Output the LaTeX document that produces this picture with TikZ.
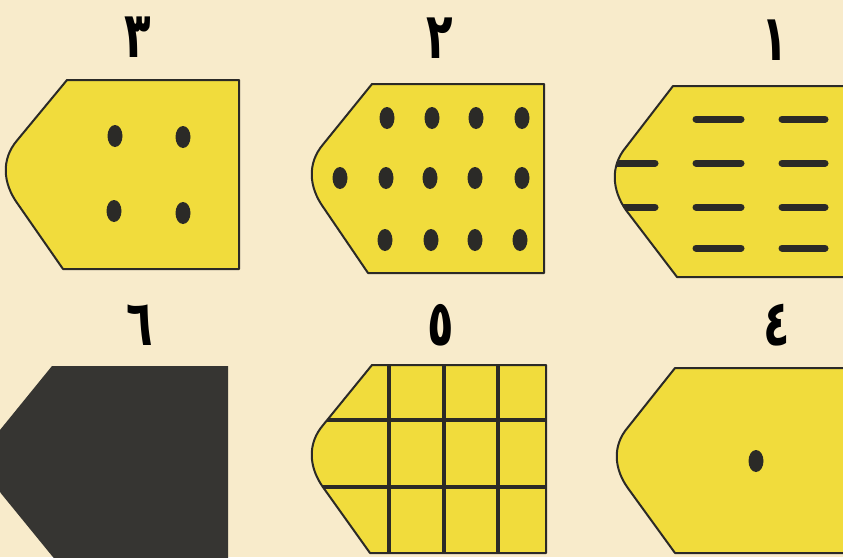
\documentclass[tikz,border=0pt]{standalone}
\usepackage{fontspec}
\newfontfamily\arabicfont[Script=Arabic]{DejaVu Sans}
\TeXXeTstate=1
\definecolor{bgcream}{HTML}{F8EBCB}
\definecolor{patchyellow}{HTML}{F1DC3C}
\definecolor{inkdark}{HTML}{2B2A27}
\definecolor{patchblack}{HTML}{363532}
\tikzset{
  patchfill/.style={fill=patchyellow},
  patchline/.style={draw=inkdark,line width=2pt,line join=round},
  dotmark/.style={fill=inkdark},
  dashbar/.style={draw=inkdark,line width=7pt,line cap=round},
  gridbar/.style={draw=inkdark,line width=4.5pt},
  numlabel/.style={font=\arabicfont\bfseries\fontsize{64}{68}\selectfont,text=black,anchor=base,inner sep=0pt,xscale=0.68}
}
% #1 top, #2 bottom, #3 x top-left, #4 x bottom-left, #5 tip x, #6 right x, #7 options
\newcommand{\patchshape}[7]{%
  \path[#7] (#3,#1) -- (#6,#1) -- (#6,#2) -- (#4,#2)
    -- ({#5+10},{#1+0.65*(#2-#1)})
    .. controls ({#5-4},{#1+0.545*(#2-#1)}) and ({#5-6},{#1+0.42*(#2-#1)}) ..
    ({#5+10},{#1+0.32*(#2-#1)}) -- cycle;}
\begin{document}
\begin{tikzpicture}[x=1pt,y=-1pt]
\useasboundingbox (0,0) rectangle (843,557);
\fill[bgcream] (0,0) rectangle (843,557);
\clip (0,0) rectangle (843,557);

% labels
\node[numlabel] (l3) at (138,57) {٣};
\node[numlabel] (l2) at (440,58) {٢};
\node[numlabel] (l1) at (775,60) {١};
\node[numlabel] (l6) at (140,345) {٦};
\node[numlabel] (l5) at (441,345) {٥};
\node[numlabel] (l4) at (777,345) {٤};

% patch 3
\patchshape{80}{269}{67}{63}{7}{239}{patchfill}
\foreach \px/\py in {115/136,183/137,114/211,183/213}
  \fill[dotmark] (\px,\py) ellipse [x radius=7.5pt,y radius=11pt];
\patchshape{80}{269}{67}{63}{7}{239}{patchline}

% patch 2
\patchshape{84}{273}{372}{368}{313}{544}{patchfill}
\foreach \px in {387,432,476,522} \fill[dotmark] (\px,118) ellipse [x radius=7.5pt,y radius=11pt];
\foreach \px in {340,386,430,475,522} \fill[dotmark] (\px,178) ellipse [x radius=7.5pt,y radius=11pt];
\foreach \px in {385,431,475,520} \fill[dotmark] (\px,240) ellipse [x radius=7.5pt,y radius=11pt];
\patchshape{84}{273}{372}{368}{313}{544}{patchline}

% patch 1
\patchshape{86}{277}{673}{677}{616}{870}{patchfill}
\begin{scope}
  \patchshape{86}{277}{673}{677}{616}{870}{clip}
  \foreach \py in {119,163,207,248} {
    \draw[dashbar] (696,\py) -- (741,\py);
    \draw[dashbar] (782,\py) -- (825,\py);
  }
  \draw[dashbar] (600,163) -- (655,163);
  \draw[dashbar] (600,207) -- (655,207);
\end{scope}
\patchshape{86}{277}{673}{677}{616}{870}{patchline}

% patch 6
\patchshape{366}{562}{52}{57}{-9}{228}{fill=patchblack}

% patch 5
\patchshape{365}{553}{372}{370}{313}{546}{patchfill}
\begin{scope}
  \patchshape{365}{553}{372}{370}{313}{546}{clip}
  \foreach \px in {389,444,498} \draw[gridbar] (\px,360) -- (\px,560);
  \foreach \py in {420,487} \draw[gridbar] (300,\py) -- (550,\py);
\end{scope}
\patchshape{365}{553}{372}{370}{313}{546}{patchline}

% patch 4
\patchshape{368}{553}{675}{675}{618}{870}{patchfill}
\fill[dotmark] (756,461) ellipse [x radius=7.5pt,y radius=11pt];
\patchshape{368}{553}{675}{675}{618}{870}{patchline}
\end{tikzpicture}
\end{document}
